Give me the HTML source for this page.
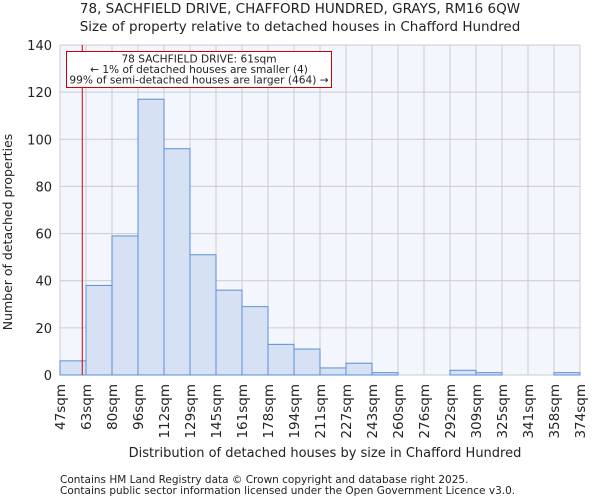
<!DOCTYPE html>
<html><head><meta charset="utf-8"><style>
body{margin:0;background:#fff;font-family:"DejaVu Sans","Liberation Sans",sans-serif}
svg text{font-family:"DejaVu Sans","Liberation Sans",sans-serif;fill:#222}
</style></head><body>
<svg id="c" width="600" height="500" xmlns="http://www.w3.org/2000/svg">
<text x="300" y="13" font-size="13.5" text-anchor="middle">78, SACHFIELD DRIVE, CHAFFORD HUNDRED, GRAYS, RM16 6QW</text>
<text x="300" y="31" font-size="13.5" text-anchor="middle">Size of property relative to detached houses in Chafford Hundred</text>
<rect x="60" y="45" width="520" height="330" fill="#f3f6fd"/>
<g id="grid"></g><g id="bars"></g><g id="axes"></g>
<text transform="translate(12,232) rotate(-90)" font-size="12.5" text-anchor="middle">Number of detached properties</text>
<text x="325" y="457" font-size="13" text-anchor="middle">Distribution of detached houses by size in Chafford Hundred</text>
<text x="60" y="483" font-size="10.5" fill="#444">Contains HM Land Registry data © Crown copyright and database right 2025.</text>
<text x="60" y="494" font-size="10.5" fill="#444">Contains public sector information licensed under the Open Government Licence v3.0.</text>
</svg>
<script>
const binLabels=["47sqm","63sqm","80sqm","96sqm","112sqm","129sqm","145sqm","161sqm","178sqm","194sqm","211sqm","227sqm","243sqm","260sqm","276sqm","292sqm","309sqm","325sqm","341sqm","358sqm","374sqm"];
const counts=[6,38,59,117,96,51,36,29,13,11,3,5,1,0,0,2,1,0,0,1];
const yTicks=[0,20,40,60,80,100,120,140];
const xMin=47,xMax=374,propertySize=61;
const X0=60,X1=580,Y0=375,Y1=45,yMax=140;
const NS="http://www.w3.org/2000/svg";
const xs=v=>X0+(v-xMin)/(xMax-xMin)*(X1-X0);
const bw=(X1-X0)/counts.length;
const xi=i=>X0+i*bw;
const ys=v=>Y0-(v/yMax)*(Y0-Y1);
function mk(t,a,p){const e=document.createElementNS(NS,t);for(const k in a)e.setAttribute(k,a[k]);p.appendChild(e);return e;}
const grid=document.getElementById('grid'),bars=document.getElementById('bars'),axes=document.getElementById('axes');
yTicks.forEach(t=>{
  const l=mk('line',{x1:X0,x2:X1,y1:ys(t),y2:ys(t),stroke:'#cccccc','stroke-width':1},grid);
  
  
  const tx=mk('text',{x:X0-8,y:ys(t)+5,'font-size':13,'text-anchor':'end'},axes);
  tx.textContent=t;
  
  
});
binLabels.forEach((lab,i)=>{
  const x=xi(i);
  const l=mk('line',{x1:x,x2:x,y1:Y1,y2:Y0,stroke:'#cccccc','stroke-width':1},grid);
  
  
  const tx=mk('text',{transform:`translate(${x+5},384) rotate(-90)`,'font-size':13.5,'text-anchor':'end'},axes);
  tx.textContent=lab;
  
  
});
counts.forEach((c,i)=>{
  if(c<=0)return;
  const r=mk('rect',{x:xi(i),y:ys(c),width:bw,height:Y0-ys(c),fill:'#d6e1f3',stroke:'#5a8fd8','stroke-width':1},bars);
  
  
});
const px=xs(propertySize);
const rl=mk('line',{x1:px,x2:px,y1:Y1,y2:Y0,stroke:'#cc0000','stroke-width':1},axes);


const bx=mk('rect',{x:66.5,y:51.5,width:265,height:36,fill:'#fff',stroke:'#cc0000','stroke-width':1},axes);


["78 SACHFIELD DRIVE: 61sqm","← 1% of detached houses are smaller (4)","99% of semi-detached houses are larger (464) →"].forEach((s,i)=>{
  const t=mk('text',{x:199,y:62.5+i*10.5,'font-size':10.6,'text-anchor':'middle'},axes);
  t.textContent=s;
  
  
});
</script>
</body></html>
